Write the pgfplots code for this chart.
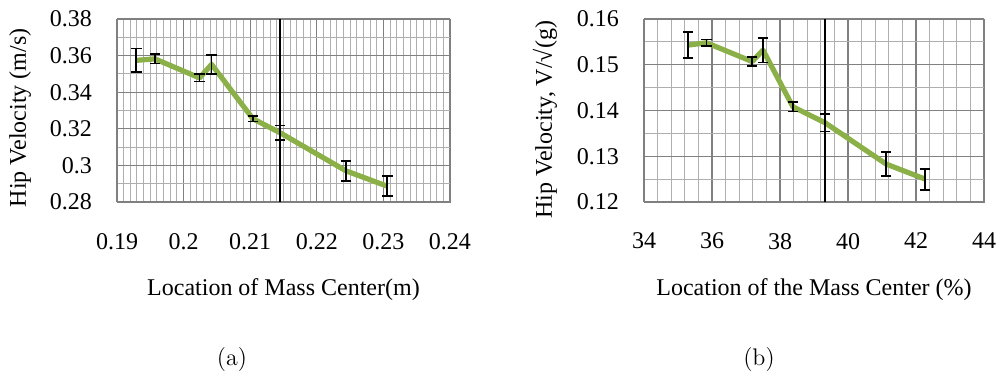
\documentclass[border=0pt]{standalone}
\usepackage{fontspec}
\usepackage{pgfplots}
\pgfplotsset{compat=1.18}
\newfontfamily\tnr{Liberation Serif}

\definecolor{linegreen}{RGB}{140,176,72}
\definecolor{majorgrid}{RGB}{128,128,128}
\definecolor{minorgrid}{RGB}{175,175,175}

\pgfplotsset{
  hipstyle/.style={
    scale only axis,
    anchor=south west,
    height=91.5pt,
    axis line style={majorgrid},
    grid=both,
    major grid style={majorgrid, line width=0.6pt},
    minor grid style={minorgrid, line width=0.5pt},
    major tick length=0pt, minor tick length=0pt,
    scaled ticks=false,
    /pgf/number format/assume math mode=true,
    tick label style={font=\tnr\fontsize{12}{14}\selectfont},
    xticklabel style={yshift=-12pt},
    yticklabel style={xshift=-9pt},
    label style={font=\tnr\fontsize{12}{14}\selectfont},
    xlabel style={at={(axis description cs:0.5,0)}, anchor=center, yshift=-44pt},
    clip=false,
  },
  greenline/.style={
    color=linegreen, line width=2.6pt, line join=round, no markers,
    error bars/.cd, y dir=both, y explicit,
    error bar style={black, line width=0.9pt},
    error mark options={black, rotate=90, mark size=2.6pt, line width=0.9pt},
  },
}

\begin{document}
\begin{tikzpicture}
\useasboundingbox (0,0) rectangle (500pt,187.5pt);

% (a) hip velocity against the absolute location of the mass center
\begin{axis}[hipstyle,
  at={(58.5pt,86.5pt)}, width=166.5pt,
  xmin=0.19, xmax=0.24, ymin=0.28, ymax=0.38,
  xtick={0.19,0.2,0.21,0.22,0.23,0.24},
  ytick={0.28,0.3,0.32,0.34,0.36,0.38},
  minor x tick num=9, minor y tick num=1,
  xlabel={Location of Mass Center(m)},
  ylabel={Hip Velocity (m/s)},
  ylabel style={at={(axis description cs:-0.291,0.46)}, rotate=0, anchor=center},
]
\addplot[black, line width=1.1pt] coordinates {(0.2145,0.28) (0.2145,0.38)};
\addplot[greenline] table[x=x, y=y, y error=e] {
x       y       e
0.1929  0.3574  0.0065
0.1957  0.3582  0.0025
0.2024  0.3478  0.0020
0.2042  0.3552  0.0053
0.2104  0.3255  0.0015
0.2145  0.3178  0.0040
0.2244  0.2970  0.0055
0.2306  0.2886  0.0055
};
\end{axis}

% (b) hip velocity against the relative location of the mass center
\begin{axis}[hipstyle,
  at={(322pt,86.5pt)}, width=170pt,
  xmin=34, xmax=44, ymin=0.12, ymax=0.16,
  xtick={34,36,38,40,42,44},
  ytick={0.12,0.13,0.14,0.15,0.16},
  minor x tick num=4, minor y tick num=1,
  xlabel={Location of the Mass Center (\%)},
  ylabel={Hip Velocity, V/√(g)},
  ylabel style={at={(axis description cs:-0.291,0.45)}, rotate=0, anchor=center},
]
\addplot[black, line width=1.1pt] coordinates {(39.33,0.12) (39.33,0.16)};
\addplot[greenline] table[x=x, y=y, y error=e] {
x      y       e
35.30  0.1543  0.0029
35.84  0.1548  0.0007
37.18  0.1507  0.0010
37.50  0.1532  0.0027
38.38  0.1408  0.0010
39.33  0.1373  0.0019
41.12  0.1283  0.0026
42.27  0.1250  0.0023
};
\end{axis}

\node[font=\fontsize{12}{14}\selectfont] at (116pt,7.5pt) {(a)};
\node[font=\fontsize{12}{14}\selectfont] at (379.5pt,7.5pt) {(b)};
\end{tikzpicture}
\end{document}
